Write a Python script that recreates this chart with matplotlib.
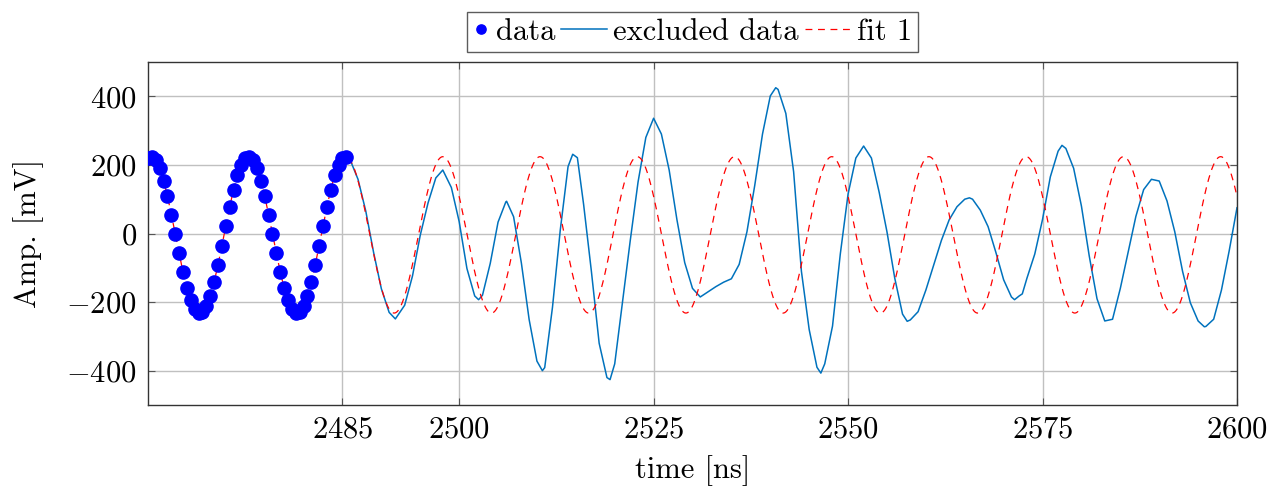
import matplotlib
matplotlib.use("Agg")
import matplotlib.pyplot as plt
import numpy as np

plt.rcParams['font.family'] = ['cmr10', 'DejaVu Serif']
plt.rcParams['mathtext.fontset'] = 'cm'
plt.rcParams['axes.formatter.use_mathtext'] = True
plt.rcParams['font.size'] = 22

# data points (0.5 ns spacing)
data_t = np.arange(2460.0, 2486.0, 0.5)
data_v = [219, 224, 214, 190, 154, 108, 55, -1, -58, -111, -158, -195, -220,
          -231, -228, -212, -181, -140, -91, -35, 22, 77, 128, 170, 201,
          219, 224, 214, 190, 154, 108, 55, -1, -58, -111, -158, -195, -220,
          -231, -228, -212, -181, -140, -91, -35, 22, 77, 128, 170, 201,
          219, 224]

# excluded data (solid blue line)
excl_t = [2485.5, 2486, 2487, 2488, 2489, 2490, 2491, 2491.8, 2493, 2494, 2495,
          2496, 2497, 2497.9, 2499, 2500, 2501, 2502, 2502.5, 2503, 2504, 2505,
          2506, 2506.1, 2507, 2508, 2509, 2510, 2510.7, 2511, 2512, 2513, 2514,
          2514.6, 2515.2, 2516, 2517, 2518, 2519, 2519.4, 2520, 2521, 2522,
          2523, 2524, 2525, 2526, 2527, 2528, 2529, 2530, 2531, 2532, 2533,
          2534, 2535, 2536, 2537, 2538, 2539, 2540, 2540.7, 2541, 2542, 2543,
          2544, 2545, 2546, 2546.5, 2547, 2548, 2549, 2550, 2551, 2552, 2553,
          2554, 2555, 2556, 2557, 2557.6, 2558, 2559, 2560, 2561, 2562, 2563,
          2564, 2565, 2565.6, 2566, 2567, 2568, 2569, 2570, 2571, 2571.4, 2572,
          2572.4, 2573, 2574, 2575, 2576, 2577, 2577.5, 2578, 2579, 2580, 2581,
          2582, 2583, 2584, 2585, 2586, 2587, 2588, 2589, 2590, 2591, 2592,
          2593, 2594, 2595, 2595.8, 2596, 2597, 2598, 2599, 2600]
excl_v = [222, 214, 158, 65, -55, -161, -230, -249, -209, -124, -5,
          89, 162, 185, 134, 35, -102, -182, -193, -180, -87, 33,
          92, 94, 49, -86, -251, -372, -400, -391, -215, 10, 195,
          231, 221, 85, -110, -320, -420, -426, -380, -200, -20,
          150, 280, 336, 290, 185, 40, -85, -160, -185, -170, -155,
          -142, -132, -90, 5, 140, 290, 401, 425, 420, 350, 180,
          -110, -280, -390, -407, -380, -270, -60, 115, 220, 255, 220,
          120, 5, -130, -235, -256, -252, -228, -165, -92, -20, 40,
          78, 100, 104, 100, 68, 20, -55, -135, -185, -193, -182,
          -176, -130, -60, 41, 165, 240, 257, 248, 190, 80, -65,
          -190, -255, -250, -160, -55, 50, 128, 158, 153, 95, 5,
          -110, -202, -255, -272, -271, -250, -165, -50, 75]

# fit 1 parameters (sine fit)
fit_amp = 228
fit_offset = -4
fit_period = 12.5
fit_peak = 2460.4

x_ticks = [2485, 2500, 2525, 2550, 2575, 2600]
y_ticks = [-400, -200, 0, 200, 400]

fig = plt.figure(figsize=(12.84, 4.91), dpi=100)
ax = fig.add_axes([148/1284, 1-405/491, (1237-148)/1284, (405-62)/491])

fit_t = np.linspace(2460, 2600, 2000)
fit_v = fit_offset + fit_amp*np.cos(2*np.pi*(fit_t - fit_peak)/fit_period)

ax.plot(data_t, data_v, 'o', color='#0000ff', markersize=9.5, label='data', zorder=3)
ax.plot(excl_t, excl_v, '-', color='#0072bd', lw=1.1, label='excluded data', zorder=2)
ax.plot(fit_t, fit_v, '--', color='#ff0000', lw=0.9, dashes=(5.5, 4.5), label='fit 1', zorder=2.5)

ax.set_xlim(2460, 2600)
ax.set_ylim(-500, 500)
ax.set_xticks(x_ticks)
ax.set_yticks(y_ticks)
ax.grid(True, color='#c0c0c0', lw=1.0)
ax.set_axisbelow(True)
ax.tick_params(direction='in', top=True, right=True, length=5, width=0.8,
               color='#555555', pad=8)
for s in ax.spines.values():
    s.set_color('#333333')
    s.set_linewidth(1.0)

ax.set_xlabel('time [ns]', labelpad=8)
ax.set_ylabel('Amp. [mV]', labelpad=16)

fs = plt.rcParams['font.size']
leg = ax.legend(loc='lower center', bbox_to_anchor=(0.5, 1.03), ncol=3,
                frameon=True, fancybox=False, edgecolor='#333333',
                handlelength=1.5, handletextpad=0.2, columnspacing=0.2,
                borderpad=0.2, borderaxespad=0, markerscale=0.7)
leg.get_frame().set_linewidth(1.0)

# shrink the handle slot of the marker-only entry, like pgfplots does
item = leg._legend_handle_box.get_children()[0].get_children()[0]
da = item.get_children()[0]
da.width = 0.55*fs
leg.legend_handles[0].set_xdata([0, 0.275*fs, 0.55*fs])

fig.savefig('out.png', dpi=100)
